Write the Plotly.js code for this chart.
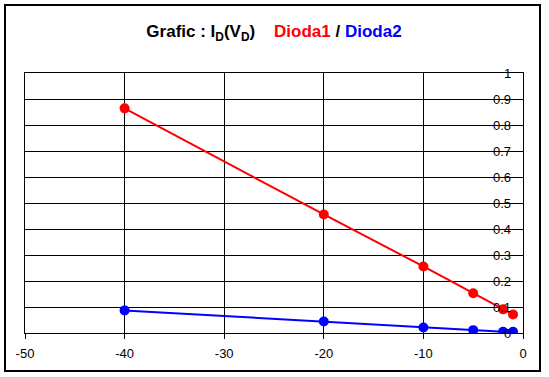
<!DOCTYPE html>
<html>
<head>
<meta charset="utf-8">
<script src="https://cdn.plot.ly/plotly-3.0.1.min.js"></script>
<style>
html,body{margin:0;padding:0;background:#fff;}
#chart{width:549px;height:377px;}
</style>
</head>
<body>
<div id="chart"></div>
<script>
const vd = [-40, -20, -10, -5, -2, -1];
const dioda1 = [0.864, 0.456, 0.256, 0.153, 0.091, 0.071];
const dioda2 = [0.087, 0.044, 0.021, 0.011, 0.005, 0.005];
const xTicks = [-50, -40, -30, -20, -10, 0];
const yTicks = [0, 0.1, 0.2, 0.3, 0.4, 0.5, 0.6, 0.7, 0.8, 0.9, 1];

const font = {family: 'Liberation Sans, Arial, sans-serif', size: 13, color: '#000'};

const traces = [
  {x: vd, y: dioda1, name: 'Dioda1', mode: 'lines+markers', type: 'scatter',
   line: {color: '#FF0000', width: 2}, marker: {color: '#FF0000', size: 10, symbol: 'circle'}},
  {x: vd, y: dioda2, name: 'Dioda2', mode: 'lines+markers', type: 'scatter',
   line: {color: '#0000FF', width: 2}, marker: {color: '#0000FF', size: 10, symbol: 'circle'}}
];

const yLabels = yTicks.map(v => ({
  text: String(v), xref: 'paper', yref: 'y', x: 1, y: v,
  xanchor: 'right', yanchor: 'middle', xshift: -10,
  showarrow: false, font: font
}));

const layout = {
  width: 549, height: 377,
  margin: {l: 25, r: 26, t: 73, b: 44, pad: 0},
  paper_bgcolor: '#fff', plot_bgcolor: '#fff',
  showlegend: false,
  font: font,
  title: {
    text: "<b>Grafic : I<sub>D</sub>(V<sub>D</sub>)    <span style='color:#FF0000'>Dioda1</span> / <span style='color:#0000FF'>Dioda2</span></b>",
    font: {family: 'Liberation Sans, Arial, sans-serif', size: 17, color: '#000'},
    x: 0.5, xref: 'paper', xanchor: 'center', y: 1 - 31/377, yanchor: 'middle'
  },
  xaxis: {
    range: [-50, 0], tickvals: xTicks, ticktext: xTicks.map(String),
    showgrid: true, gridcolor: '#000', gridwidth: 1,
    showline: true, linecolor: '#000', linewidth: 1, mirror: true,
    ticks: 'outside', ticklen: 5, tickcolor: '#000', tickwidth: 1,
    ticklabelstandoff: 3,
    zeroline: false, tickfont: font, fixedrange: true
  },
  yaxis: {
    range: [0, 1], tickvals: yTicks,
    side: 'right', showticklabels: false,
    showgrid: true, gridcolor: '#000', gridwidth: 1,
    showline: true, linecolor: '#000', linewidth: 1, mirror: true,
    ticks: '', zeroline: false, fixedrange: true
  },
  annotations: yLabels,
  shapes: [
    {type: 'rect', xref: 'paper', yref: 'paper',
     x0: (5 - 25) / 498, x1: (540 - 25) / 498,
     y0: (333 - 371) / 260, y1: (333 - 5) / 260,
     line: {color: '#000', width: 2}, fillcolor: 'rgba(0,0,0,0)', layer: 'below'}
  ]
};

Plotly.newPlot('chart', traces, layout, {displayModeBar: false, staticPlot: true});
</script>
</body>
</html>
